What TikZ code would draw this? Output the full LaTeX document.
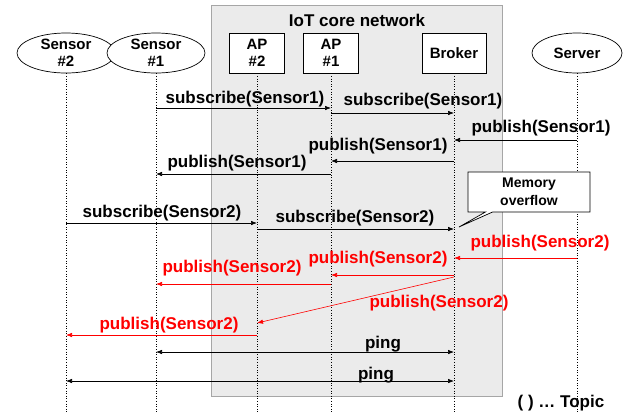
\documentclass[tikz,border=0pt]{standalone}
\usepackage{fontspec}
\setmainfont{Liberation Sans}
\usetikzlibrary{shapes,arrows.meta}

\begin{document}
\begin{tikzpicture}[x=1pt,y=-1pt,
    font=\fontsize{17}{18}\selectfont\bfseries,
    >={Latex[length=6pt,width=4.5pt]},
    dev/.style={draw,line width=0.7pt,ellipse,fill=white,minimum width=98pt,minimum height=40pt,inner sep=0pt},
    ent/.style={draw,line width=0.7pt,fill=white,minimum width=55pt,minimum height=40pt,inner sep=1pt,align=center,font=\fontsize{15}{17}\selectfont\bfseries},
    lifeline/.style={dotted,line width=0.6pt},
    msg/.style={->,line width=0.6pt},
    lost/.style={->,red,line width=0.6pt},
    txt/.style={inner sep=0pt},
    redtxt/.style={inner sep=0pt,text=red}]
    \useasboundingbox (0,0) rectangle (626,418);

    % Core network area
    \draw[fill=black!8,draw=black!35] (211,5) rectangle (502,396);
    \node[txt] (core) at (357,20) {IoT core network};

    % Entities
    \node[dev,label={[align=center,font=\fontsize{15}{17}\selectfont\bfseries]center:Sensor\\\#2}] (s2) at (66,53) {};
    \node[dev,label={[align=center,font=\fontsize{15}{17}\selectfont\bfseries]center:Sensor\\\#1}] (s1) at (156,53) {};
    \node[ent] (ap2) at (257,53) {AP\\\#2};
    \node[ent] (ap1) at (331,53) {AP\\\#1};
    \node[ent,minimum width=64pt] (broker) at (454,53) {Broker};
    \node[dev,minimum width=90pt,label={[font=\fontsize{15}{17}\selectfont\bfseries]center:Server}] (server) at (577,53) {};

    % Lifelines
    \coordinate (bottom) at (0,412);
    \foreach \n in {s2,s1,ap2,ap1,broker,server} {
        \draw[lifeline] (\n.south) -- (\n |- bottom);
    }

    % Message levels
    \foreach \i/\y in {1/108,2/113,3/140,4/161,5/174,6/223,7/229,8/258,9/275,
                       10/284,11/277,12/323,13/335,14/352,15/381} {
        \coordinate (m\i) at (0,\y);
    }

    % Subscribe / publish for Sensor1
    \draw[msg] (s1 |- m1) -- (ap1 |- m1);
    \node[txt] (l1) at (245,99) {subscribe(Sensor1)};
    \draw[msg] (ap1 |- m2) -- (broker |- m2);
    \node[txt] (l2) at (423,101) {subscribe(Sensor1)};
    \draw[msg] (server |- m3) -- (broker |- m3);
    \node[txt] (l3) at (541,128) {publish(Sensor1)};
    \draw[msg] (broker |- m4) -- (ap1 |- m4);
    \node[txt] (l4) at (378,146) {publish(Sensor1)};
    \draw[msg] (ap1 |- m5) -- (s1 |- m5);
    \node[txt] (l5) at (237,163) {publish(Sensor1)};

    % Subscribe for Sensor2
    \draw[msg] (s2 |- m6) -- (ap2 |- m6);
    \node[txt] (l6) at (162,213) {subscribe(Sensor2)};
    \draw[msg] (ap2 |- m7) -- (broker |- m7);
    \node[txt] (l7) at (355,218) {subscribe(Sensor2)};

    % Broker runs out of memory
    \coordinate (ovf) at (459,227);
    \node[rectangle callout,draw=black,line width=0.7pt,fill=white,align=center,minimum width=122pt,minimum height=40pt,
          inner sep=1pt,font=\fontsize{14}{18}\selectfont\bfseries,callout absolute pointer=(ovf)]
          (mem) at (529,192) {Memory\\overflow};

    % Publish for Sensor2 goes everywhere
    \draw[lost] (server |- m8) -- (broker |- m8);
    \node[redtxt] (l8) at (540,243) {publish(Sensor2)};
    \draw[lost] (broker |- m9) -- (ap1 |- m9);
    \node[redtxt] (l9) at (378,259) {publish(Sensor2)};
    \draw[lost] (ap1 |- m10) -- (s1 |- m10);
    \node[redtxt] (l10) at (232,268) {publish(Sensor2)};
    \draw[lost] (broker |- m11) -- (ap2 |- m12);
    \node[redtxt] (l11) at (439,303) {publish(Sensor2)};
    \draw[lost] (ap2 |- m13) -- (s2 |- m13);
    \node[redtxt] (l12) at (169,325) {publish(Sensor2)};

    % Keep-alive
    \draw[msg,<->] (s1 |- m14) -- (broker |- m14);
    \node[txt] (l13) at (383,344) {ping};
    \draw[msg,<->] (s2 |- m15) -- (broker |- m15);
    \node[txt] (l14) at (376,375) {ping};

    \node[txt] (topic) at (561,403) {( ) … Topic};

\end{tikzpicture}
\end{document}
